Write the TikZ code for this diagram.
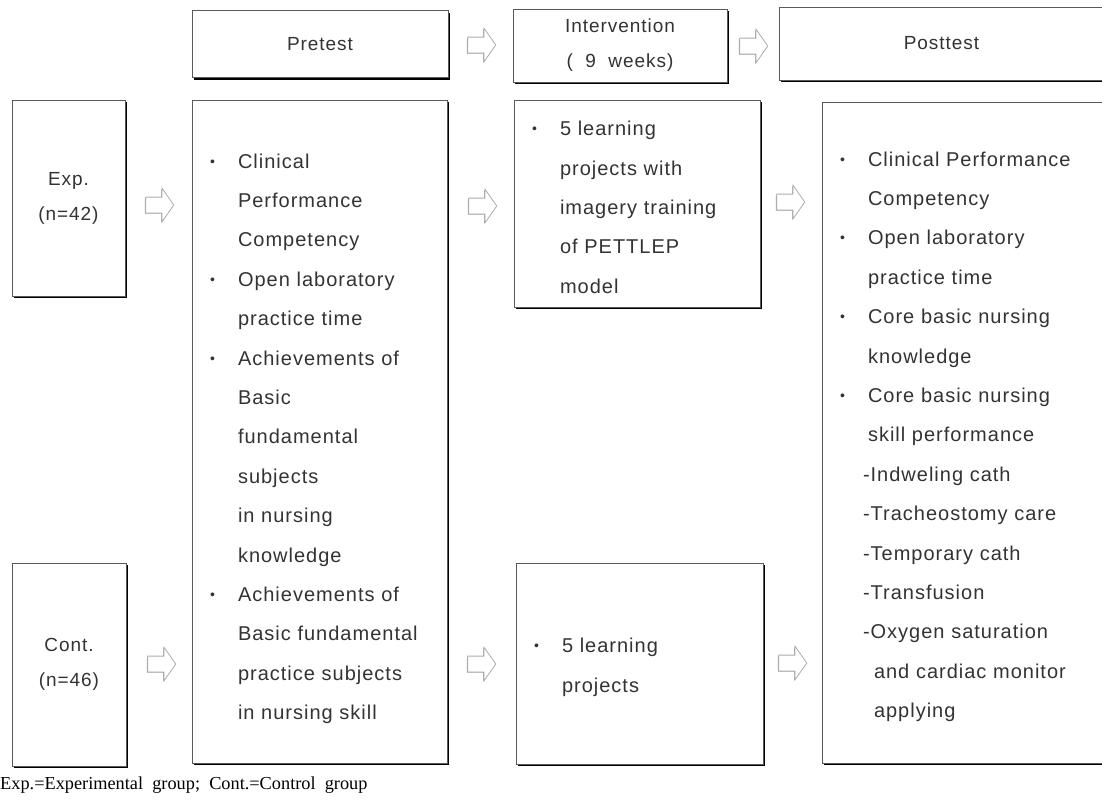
\documentclass[tikz,border=0pt]{standalone}
\usepackage{fontspec}
\setmainfont{Liberation Sans}[LetterSpace=5,WordSpace=2]
\newfontfamily\notefont{Liberation Serif}
\usetikzlibrary{shapes.arrows,shadows}
\tikzset{
  boxnode/.style={rectangle, draw=black!65, line width=0.8pt, fill=white,
                  drop shadow={shadow xshift=2pt, shadow yshift=-2pt, fill=black, opacity=1},
                  font=\fontsize{19}{35}\selectfont, align=center, text=black!80, inner sep=0pt},
  listbox/.style={boxnode, align=left, inner xsep=18pt, font=\fontsize{20}{39.4}\selectfont},
  harrow/.style={single arrow, draw=gray!65, fill=white, line width=0.8pt,
                 minimum height=28pt, minimum width=33pt, single arrow head extend=9pt,
                 single arrow tip angle=110, inner xsep=0pt, inner ysep=7.5pt,
                 drop shadow={shadow xshift=-0.8pt, shadow yshift=-0.8pt, fill=gray!70, opacity=1}},
}
\newcommand{\bul}{\makebox[28pt][l]{\raisebox{2pt}{\fontsize{14}{14}\selectfont\textbullet}}}
\newcommand{\ind}{\hspace*{28pt}}
\newcommand{\topgap}[1]{\rule{0pt}{#1}}

\begin{document}
\begin{tikzpicture}[x=1pt,y=-1pt]
  \useasboundingbox (0,0) rectangle (1102,806);

  % column heads
  \node[boxnode, minimum width=256pt, minimum height=67pt] (preHead) at (320,44) {Pretest};
  \node[boxnode, minimum width=214pt, minimum height=73pt] (interHead) at (620,45.5) {Intervention\\( 9 weeks)};
  \node[boxnode, minimum width=325pt, minimum height=73pt] (postHead) at (941.5,43.5) {Posttest};

  % groups
  \node[boxnode, minimum width=113pt, minimum height=196pt] (exp) at (68.5,198) {Exp.\\(n=42)};
  \node[boxnode, minimum width=114pt, minimum height=203pt] (cont) at (69,664.5) {Cont.\\(n=46)};

  % pretest
  \node[listbox, text width=219pt, minimum height=663pt] (preBody) at (319.5,431.5) {%
    \topgap{29pt}\bul Clinical\\ \ind Performance\\ \ind Competency\\
    \bul Open laboratory\\ \ind practice time\\
    \bul Achievements of\\ \ind Basic\\ \ind fundamental\\ \ind subjects\\ \ind in nursing\\ \ind knowledge\\
    \bul Achievements of\\ \ind Basic fundamental\\ \ind practice subjects\\ \ind in nursing skill};

  % intervention
  \node[listbox, text width=210pt, minimum height=207pt] (interExp) at (637,203.5) {%
    \topgap{22pt}\bul 5 learning\\ \ind projects with\\ \ind imagery training\\ \ind of PETTLEP\\ \ind model};
  \node[listbox, text width=211pt, minimum height=201pt] (interCont) at (639.5,663.5) {%
    \topgap{22pt}\bul 5 learning\\ \ind projects};

  % posttest
  \node[listbox, text width=246pt, minimum height=661pt] (postBody) at (963,432.5) {%
    \topgap{23pt}\bul Clinical Performance\\ \ind Competency\\
    \bul Open laboratory\\ \ind practice time\\
    \bul Core basic nursing\\ \ind knowledge\\
    \bul Core basic nursing\\ \ind skill performance\\
    \hspace*{23pt}-Indweling cath\\ \hspace*{23pt}-Tracheostomy care\\ \hspace*{23pt}-Temporary cath\\
    \hspace*{23pt}-Transfusion\\ \hspace*{23pt}-Oxygen saturation\\
    \hspace*{34pt}and cardiac monitor\\ \hspace*{34pt}applying};

  % block arrows
  \node[harrow] (arTop1) at (479,45) {};
  \node[harrow] (arTop2) at (751,46) {};
  \node[harrow] (arExp1) at (157,205) {};
  \node[harrow] (arExp2) at (480,206) {};
  \node[harrow] (arExp3) at (788,202) {};
  \node[harrow] (arCon1) at (159,664) {};
  \node[harrow] (arCon2) at (479,664) {};
  \node[harrow] (arCon3) at (790,663) {};

  \node[anchor=west, inner sep=0pt, font=\notefont\fontsize{18.3}{20}\selectfont] (note) at (0,785)
    {Exp.=Experimental\ \ group;\ \ Cont.=Control\ \ group};
\end{tikzpicture}
\end{document}
